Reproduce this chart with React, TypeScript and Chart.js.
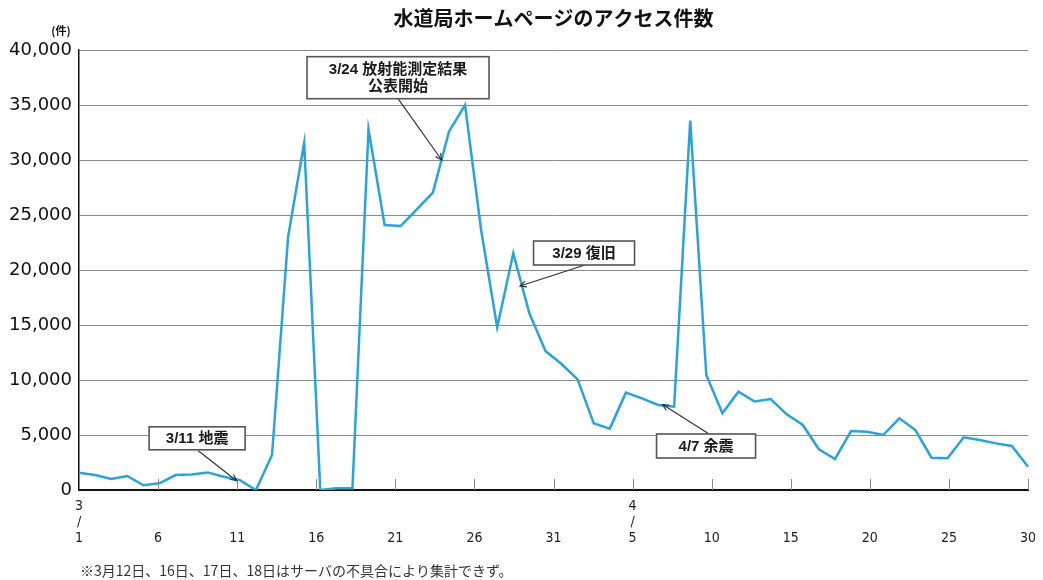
import React, { useEffect, useRef } from "react";
import { Chart, registerables } from "chart.js";

Chart.register(...registerables);

const TITLE = "水道局ホームページのアクセス件数";
const UNIT = "(件)";
const FOOTNOTE = "※3月12日、16日、17日、18日はサーバの不具合により集計できず。";

// categories: one point per day
const dates = [
  "3/1", "3/2", "3/3", "3/4", "3/5", "3/6", "3/7", "3/8", "3/9", "3/10",
  "3/11", "3/12", "3/13", "3/14", "3/15", "3/16", "3/17", "3/18", "3/19", "3/20",
  "3/21", "3/22", "3/23", "3/24", "3/25", "3/26", "3/27", "3/28", "3/29", "3/30",
  "3/31", "4/1", "4/2", "4/3", "4/4", "4/5", "4/6", "4/7", "4/8", "4/9",
  "4/10", "4/11", "4/12", "4/13", "4/14", "4/15", "4/16", "4/17", "4/18", "4/19",
  "4/20", "4/21", "4/22", "4/23", "4/24", "4/25", "4/26", "4/27", "4/28", "4/29",
];

// access counts (件)
const accessCounts = [
  1570, 1360, 1000, 1270, 430, 610, 1360, 1420, 1600, 1210,
  900, 0, 3180, 23030, 31570, 0, 150, 150, 32790, 24090,
  24000, 25520, 27030, 32575, 35000, 23640, 14790, 21520, 16060, 12640,
  11450, 10060, 6060, 5580, 8850, 8330, 7730, 7580, 33580, 10450,
  6970, 8940, 8050, 8270, 6880, 5910, 3700, 2820, 5360, 5300,
  5000, 6520, 5450, 2940, 2880, 4790, 4550, 4240, 4000, 2120,
];

// y axis
const yMin = 0;
const yMax = 40000;
const yStep = 5000;

// date axis tick labels (every 5 days, 3/1 .. 4/30)
const axisDayTicks = ["1", "6", "11", "16", "21", "26", "31", "5", "10", "15", "20", "25", "30"];
const axisMonthTicks = ["3", "", "", "", "", "", "", "4", "", "", "", "", ""];
const axisDaySpan = 60;
const axisDayStep = 5;

// callouts: text + anchor point (category index, value)
const calloutTexts = [["3/11 地震"], ["3/24 放射能測定結果", "公表開始"], ["3/29 復旧"], ["4/7 余震"]];
const calloutTipIndex = [9.8, 22.55, 27.42, 36.28];
const calloutTipValue = [845, 30000, 18545, 7773];

// callout layout (pixels relative to the anchor)
const calloutLayout = [
  { dx: -39.5, dy: -42.4, w: 96, h: 23, sx: -38.4, sy: -30 },
  { dx: -43.7, dy: -82.3, w: 182, h: 42, sx: -43.7, sy: -61.3 },
  { dx: 64, dy: -33, w: 101, h: 24, sx: 65, sy: -21 },
  { dx: 43.5, dy: 41.5, w: 99, h: 24, sx: 46.5, sy: 29.5 },
];

const CJK = '"Noto Sans CJK JP", "Noto Sans", sans-serif';

const decorPlugin = {
  id: "decor",
  afterDraw(chart: any) {
    const { ctx, chartArea, scales } = chart;
    const xs = scales.x;
    const ys = scales.y;
    const xt = scales.xt;
    ctx.save();

    // title
    ctx.fillStyle = "#111";
    ctx.textAlign = "center";
    ctx.textBaseline = "middle";
    ctx.font = "bold 20px " + CJK;
    ctx.fillText(TITLE, (chartArea.left + chartArea.right) / 2, 10);

    // unit
    ctx.font = "bold 11px " + CJK;
    ctx.fillText(UNIT, chartArea.left - 18, 23);

    // inward tick marks on date axis
    ctx.strokeStyle = "#8a8a8a";
    ctx.lineWidth = 1;
    xt.ticks.forEach((t: any) => {
      if (t.value === 0) return;
      const px = Math.round(xt.getPixelForValue(t.value)) + 0.5;
      ctx.beginPath();
      ctx.moveTo(px, chartArea.bottom - 11);
      ctx.lineTo(px, chartArea.bottom);
      ctx.stroke();
    });

    // footnote
    ctx.fillStyle = "#333";
    ctx.textAlign = "left";
    ctx.font = "14px " + CJK;
    ctx.fillText(FOOTNOTE, chartArea.left + 1, 563);

    // callouts
    calloutTexts.forEach((lines, i) => {
      const L = calloutLayout[i];
      const tx = xs.getPixelForValue(calloutTipIndex[i]);
      const ty = ys.getPixelForValue(calloutTipValue[i]);
      const sx = tx + L.sx;
      const sy = ty + L.sy;
      ctx.strokeStyle = "#333";
      ctx.lineWidth = 1.2;
      ctx.beginPath();
      ctx.moveTo(sx, sy);
      ctx.lineTo(tx, ty);
      ctx.stroke();
      const ang = Math.atan2(ty - sy, tx - sx);
      const hl = 7;
      ctx.beginPath();
      ctx.moveTo(tx - hl * Math.cos(ang - 0.45), ty - hl * Math.sin(ang - 0.45));
      ctx.lineTo(tx, ty);
      ctx.lineTo(tx - hl * Math.cos(ang + 0.45), ty - hl * Math.sin(ang + 0.45));
      ctx.stroke();
      const cx = tx + L.dx;
      const cy = ty + L.dy;
      const bx = cx - L.w / 2;
      const by = cy - L.h / 2;
      ctx.fillStyle = "#fff";
      ctx.fillRect(bx, by, L.w, L.h);
      ctx.strokeStyle = "#555";
      ctx.lineWidth = 1.6;
      ctx.strokeRect(bx, by, L.w, L.h);
      ctx.fillStyle = "#1a1a1a";
      ctx.textAlign = "center";
      ctx.textBaseline = "middle";
      ctx.font = 'bold 15px "Liberation Sans", ' + CJK;
      const lh = 17;
      const y0 = cy - ((lines.length - 1) * lh) / 2;
      lines.forEach((s, k) => ctx.fillText(s, cx, y0 + k * lh + 0.5));
    });

    ctx.restore();
  },
};

export default function App() {
  const ref = useRef<HTMLCanvasElement | null>(null);

  useEffect(() => {
    if (!ref.current) return;
    const chart = new Chart(ref.current, {
      type: "line",
      data: {
        labels: dates,
        datasets: [
          {
            data: accessCounts,
            xAxisID: "x",
            yAxisID: "y",
            borderColor: "#29a3dc",
            borderWidth: 2.5,
            pointRadius: 0,
            tension: 0,
            fill: false,
          },
        ],
      },
      options: {
        animation: false,
        responsive: true,
        maintainAspectRatio: false,
        layout: { padding: { top: 42, right: 7, left: 0, bottom: 0 } },
        plugins: {
          legend: { display: false },
          tooltip: { enabled: false },
          title: { display: false },
        },
        scales: {
          x: { type: "category", display: false, offset: false },
          xt: {
            type: "linear",
            position: "bottom",
            min: 0,
            max: axisDaySpan,
            grid: { display: false, drawTicks: false },
            border: { display: true, color: "#111", width: 2 },
            ticks: {
              stepSize: axisDayStep,
              padding: 9,
              autoSkip: false,
              maxRotation: 0,
              color: "#222",
              font: { family: '"Liberation Sans Narrow", "DejaVu Sans Condensed", sans-serif', size: 14, lineHeight: 1.12 },
              callback: (_v: any, i: number) => [axisMonthTicks[i] || "", axisMonthTicks[i] ? "/" : "", axisDayTicks[i] || ""],
            },
            afterFit: (s: any) => {
              s.height = 90;
              s.paddingLeft = 0;
              s.paddingRight = 0;
            },
          },
          y: {
            min: yMin,
            max: yMax,
            ticks: {
              stepSize: yStep,
              padding: 7,
              color: "#111",
              font: { family: '"DejaVu Sans", sans-serif', size: 18 },
              callback: (v: any) => Number(v).toLocaleString("en-US"),
            },
            grid: {
              drawTicks: false,
              lineWidth: 1,
              color: (c: any) => (c.tick && c.tick.value === 0 ? "rgba(0,0,0,0)" : "#8a8a8a"),
            },
            border: { display: true, color: "#111", width: 1.5 },
            afterFit: (s: any) => {
              s.width = 71;
            },
          },
        },
      },
      plugins: [decorPlugin],
    });
    return () => chart.destroy();
  }, []);

  return (
    <div style={{ position: "relative", width: 1027, height: 572 }}>
      <canvas ref={ref} />
    </div>
  );
}
